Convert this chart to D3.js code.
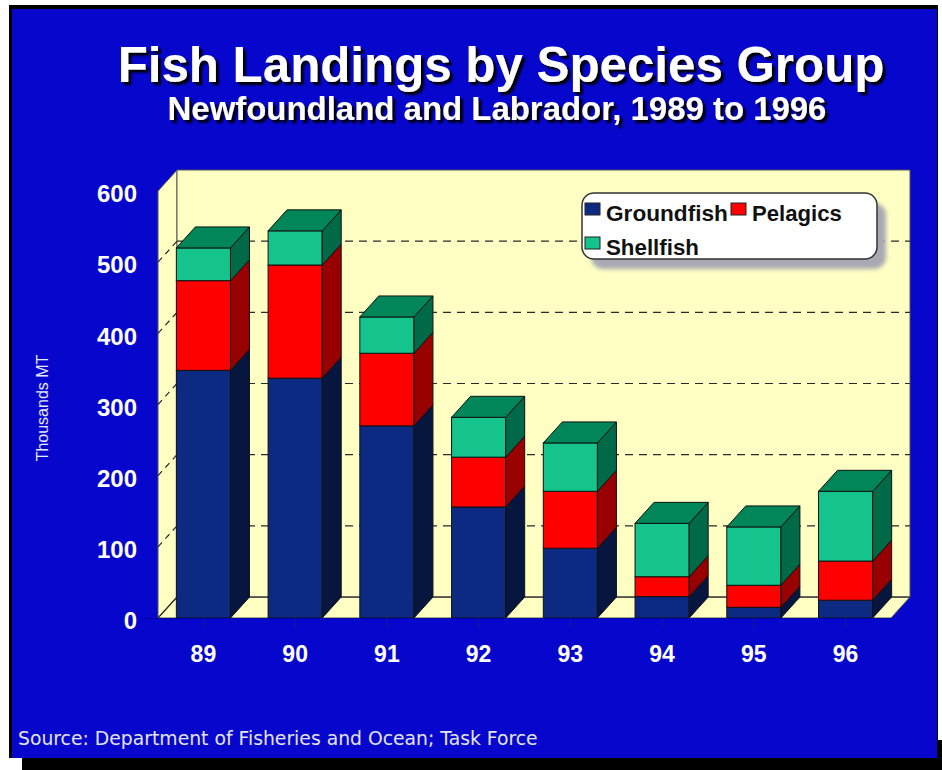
<!DOCTYPE html>
<html>
<head>
<meta charset="utf-8">
<script src="https://cdn.jsdelivr.net/npm/d3@7"></script>
<style>
  body { margin: 0; background: #fff; }
  svg { display: block; }
</style>
</head>
<body>
<svg id="chart" width="942" height="770"></svg>
<script>
// data (thousands of tonnes)
var years = ["89", "90", "91", "92", "93", "94", "95", "96"];
var groundfish = [348, 337, 270, 156, 98, 30, 15, 25];
var pelagics = [126, 159, 102, 70, 80, 28, 31, 55];
var shellfish = [46, 48, 51, 56, 68, 75, 82, 98];
var seriesNames = ["Groundfish", "Pelagics", "Shellfish"];
var yTicks = [0, 100, 200, 300, 400, 500, 600];

var svg = d3.select("#chart");
var defs = svg.append("defs");
defs.append("filter").attr("id", "blur").append("feGaussianBlur").attr("stdDeviation", 2);
defs.append("filter").attr("id", "shadow")
  .attr("x", "-5%").attr("y", "-20%").attr("width", "115%").attr("height", "150%")
  .append("feDropShadow").attr("dx", 3).attr("dy", 3).attr("stdDeviation", 0.8)
  .attr("flood-color", "#000").attr("flood-opacity", 1);

// colours: front, side, top
var faces = {
  Groundfish: ["#0d2a82", "#06163f", "#0a2060"],
  Pelagics: ["#ff0000", "#990000", "#c00000"],
  Shellfish: ["#14c48c", "#006a48", "#008658"]
};

var rows = years.map(function (y, i) {
  return { year: y, Groundfish: groundfish[i], Pelagics: pelagics[i], Shellfish: shellfish[i] };
});
var stacked = d3.stack().keys(seriesNames)(rows);

// plot geometry (front plane + depth offset)
var left = 158, right = 891, depthX = 19, depthY = -21;
var x = d3.scaleBand().domain(years).range([left, right]).paddingInner(0.41).paddingOuter(0.2);
var y = d3.scaleLinear().domain([0, 600]).range([618, 191]);

// frame
svg.append("rect").attr("x", 22).attr("y", 740).attr("width", 920).attr("height", 30).attr("fill", "#000");
svg.append("rect").attr("x", 9).attr("y", 5).attr("width", 929).attr("height", 753).attr("fill", "#000");
svg.append("rect").attr("x", 12).attr("y", 9).attr("width", 925).attr("height", 749).attr("fill", "#0606cc");

// titles with drop shadow
function fit(sel, w) {
  var fs = parseFloat(sel.attr("font-size"));
  var l = sel.node().getComputedTextLength();
  sel.attr("font-size", fs * w / l);
}
function shadowText(txt, cx, by, size, w) {
  var t = svg.append("text").attr("x", cx).attr("y", by)
    .attr("font-family", "Liberation Sans, Arial, sans-serif").attr("font-weight", "bold")
    .attr("text-anchor", "middle").attr("font-size", size)
    .attr("fill", "#fff").attr("filter", "url(#shadow)").text(txt);
  fit(t, w);
}
shadowText("Fish Landings by Species Group", 501, 82, 48, 767);
shadowText("Newfoundland and Labrador, 1989 to 1996", 497, 120, 28, 659);

// walls and floor
var wallFill = "#ffffc4", wallLine = "#555";
var y0 = y(0), yTop = y(600);
svg.append("polygon")
  .attr("points", [[left, y0], [right, y0], [right + depthX, y0 + depthY], [left + depthX, y0 + depthY]].join(" "))
  .attr("fill", wallFill).attr("stroke", wallLine);
svg.append("polygon")
  .attr("points", [[left, y0], [left + depthX, y0 + depthY], [left + depthX, yTop + depthY], [left, yTop]].join(" "))
  .attr("fill", wallFill).attr("stroke", wallLine);
svg.append("rect")
  .attr("x", left + depthX).attr("y", yTop + depthY)
  .attr("width", right - left).attr("height", y0 - yTop)
  .attr("fill", wallFill).attr("stroke", wallLine);

// gridlines on back and left walls
var grid = svg.append("g").attr("stroke", "#2a2a2a").attr("stroke-width", 1.2);
grid.selectAll(".gb").data(yTicks.filter(function (d) { return d > 0 && d < 600; })).enter().append("line")
  .attr("x1", left + depthX).attr("x2", right + depthX)
  .attr("y1", function (d) { return y(d) + depthY; }).attr("y2", function (d) { return y(d) + depthY; })
  .attr("stroke-dasharray", "8,6");
grid.selectAll(".gl").data(yTicks.filter(function (d) { return d < 600; })).enter().append("line")
  .attr("x1", left).attr("x2", left + depthX)
  .attr("y1", function (d) { return y(d); }).attr("y2", function (d) { return y(d) + depthY; })
  .attr("stroke-dasharray", function (d) { return d ? "6,5" : null; });
grid.append("line").attr("x1", left + depthX).attr("x2", right + depthX).attr("y1", y0 + depthY).attr("y2", y0 + depthY);

// 3D stacked bars
var bw = x.bandwidth();
var series = svg.selectAll(".series").data(stacked).enter().append("g").attr("class", "series");
series.each(function (s, si) {
  var g = d3.select(this), col = faces[s.key];
  g.selectAll(".front").data(s).enter().append("rect")
    .attr("x", function (d) { return x(d.data.year); })
    .attr("y", function (d) { return y(d[1]); })
    .attr("width", bw)
    .attr("height", function (d) { return y(d[0]) - y(d[1]); })
    .attr("fill", col[0]).attr("stroke", "#111").attr("stroke-width", 1);
  g.selectAll(".side").data(s).enter().append("polygon")
    .attr("points", function (d) {
      var xr = x(d.data.year) + bw;
      return [[xr, y(d[1])], [xr + depthX, y(d[1]) + depthY], [xr + depthX, y(d[0]) + depthY], [xr, y(d[0])]].join(" ");
    })
    .attr("fill", col[1]).attr("stroke", "#111").attr("stroke-width", 1);
  if (si === stacked.length - 1) {
    g.selectAll(".top").data(s).enter().append("polygon")
      .attr("points", function (d) {
        var xl = x(d.data.year), yt = y(d[1]);
        return [[xl, yt], [xl + depthX, yt + depthY], [xl + bw + depthX, yt + depthY], [xl + bw, yt]].join(" ");
      })
      .attr("fill", col[2]).attr("stroke", "#111").attr("stroke-width", 1);
  }
});

// axes
var xAxis = svg.append("g").attr("transform", "translate(0," + y0 + ")")
  .call(d3.axisBottom(x).tickSize(10).tickPadding(18));
xAxis.select(".domain").attr("stroke", "#0000a0").attr("d", "M" + (left - 14) + ",0.5H" + right);
xAxis.selectAll(".tick line").attr("stroke", "#1a1a90");
xAxis.selectAll("text").attr("fill", "#fff").attr("font-size", 23).attr("font-weight", "bold")
  .attr("font-family", "Liberation Sans, Arial, sans-serif");

var yAxis = svg.append("g").attr("transform", "translate(140,3)")
  .call(d3.axisLeft(y).tickValues(yTicks).tickSize(0).tickPadding(3));
yAxis.select(".domain").remove();
yAxis.selectAll("text").attr("fill", "#fff").attr("font-size", 24).attr("font-weight", "bold")
  .attr("font-family", "Liberation Sans, Arial, sans-serif");

svg.append("text")
  .attr("transform", "translate(48,408) rotate(-90)")
  .attr("text-anchor", "middle")
  .attr("font-family", "Liberation Sans, Arial, sans-serif").attr("font-size", 16)
  .attr("fill", "#e8e8ff").text("Thousands MT");

// legend
var lg = svg.append("g").attr("transform", "translate(582,193)");
lg.append("rect").attr("x", 9).attr("y", 10).attr("width", 295).attr("height", 66).attr("rx", 12)
  .attr("fill", "#a9a9b4").attr("filter", "url(#blur)");
lg.append("rect").attr("width", 295).attr("height", 66).attr("rx", 12)
  .attr("fill", "#fff").attr("stroke", "#333").attr("stroke-width", 1.5);
var legendPos = [[3, 10, 122], [149, 10, 90], [3, 44, 93]];
var items = lg.selectAll(".item").data(seriesNames).enter().append("g")
  .attr("transform", function (d, i) { return "translate(" + legendPos[i][0] + "," + legendPos[i][1] + ")"; });
items.append("rect").attr("width", 15).attr("height", 12)
  .attr("fill", function (d) { return faces[d][0]; }).attr("stroke", "#222");
items.append("text").attr("x", 21).attr("y", 18)
  .attr("font-family", "Liberation Sans, Arial, sans-serif").attr("font-weight", "bold").attr("font-size", 19)
  .attr("fill", "#111").text(function (d) { return d; })
  .each(function (d, i) { fit(d3.select(this), legendPos[i][2]); });

// source note
var src = svg.append("text").attr("x", 18).attr("y", 745)
  .attr("font-family", "DejaVu Sans, Verdana, sans-serif").attr("font-size", 15)
  .attr("fill", "#e4e4f4").text("Source: Department of Fisheries and Ocean; Task Force");
fit(src, 520);
</script>
</body>
</html>
